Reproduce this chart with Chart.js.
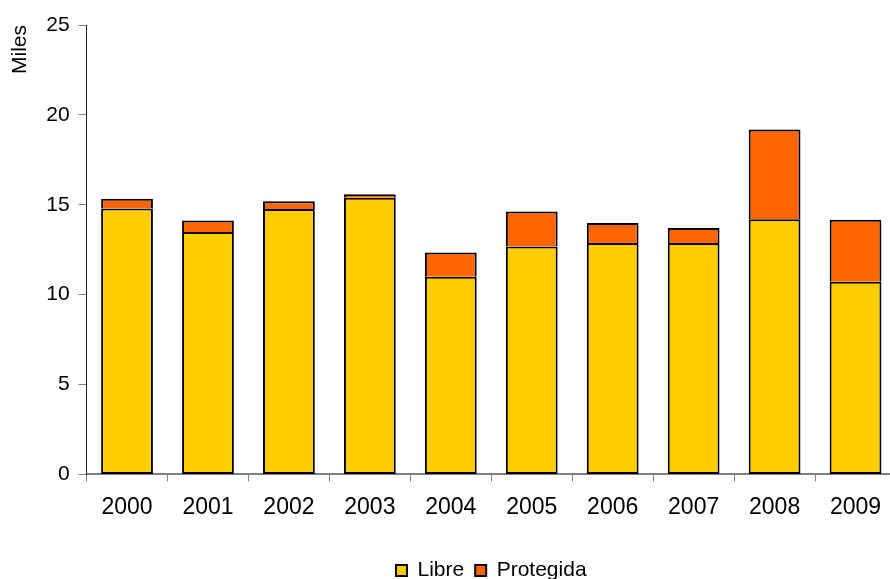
<!DOCTYPE html>
<html lang="es">
<head>
    <meta charset="UTF-8">
    <title>Libre / Protegida</title>
    <style>
        body {
            margin: 0;
            padding: 0;
            background: #fff;
            overflow: hidden;
        }
        #wrap {
            width: 890px;
            height: 579px;
            overflow: hidden;
        }
    </style>
</head>
<body>
    <div id="wrap">
        <!-- a bit wider than the window: the last column is cut at the right edge like the original -->
        <canvas id="chart" width="900" height="579"></canvas>
    </div>

    <script src="https://cdn.jsdelivr.net/npm/chart.js"></script>
    <script>
        // data (thousands)
        const years = ['2000', '2001', '2002', '2003', '2004', '2005', '2006', '2007', '2008', '2009'];
        const libre = [14.79, 13.48, 14.77, 15.39, 11.0, 12.68, 12.87, 12.87, 14.19, 10.72];
        const protegida = [0.54, 0.64, 0.43, 0.19, 1.34, 1.94, 1.12, 0.84, 4.99, 3.44];
        const yTicks = [0, 5, 10, 15, 20, 25];

        const family = 'Arial, "Liberation Sans", sans-serif';

        // legend sits under the middle of the plot area and a little lower than chart.js puts it
        const placeLegend = {
            id: 'placeLegend',
            afterLayout(chart) {
                const lg = chart.legend;
                const dx = (chart.chartArea.left + chart.chartArea.right) / 2 - (lg.left + lg.right) / 2;
                lg.left += dx;
                lg.right += dx;
                lg.top += 12;
                lg.bottom += 12;
            }
        };

        new Chart(document.getElementById('chart'), {
            type: 'bar',
            data: {
                labels: years,
                datasets: [
                    {
                        label: 'Libre',
                        data: libre,
                        backgroundColor: '#FFCC00',
                        borderColor: '#000',
                        borderWidth: 2,
                        borderSkipped: false
                    },
                    {
                        label: 'Protegida',
                        data: protegida,
                        backgroundColor: '#FF6600',
                        borderColor: '#000',
                        borderWidth: 2,
                        borderSkipped: 'start' // the yellow top edge already draws the line between them
                    }
                ]
            },
            options: {
                responsive: false,
                animation: false,
                datasets: {
                    bar: { categoryPercentage: 1, barPercentage: 0.64 }
                },
                layout: { padding: { top: 25, right: 4, left: 4, bottom: 0 } },
                plugins: {
                    legend: {
                        position: 'bottom',
                        labels: {
                            color: '#000',
                            font: { family: family, size: 21 },
                            boxWidth: 11,
                            boxHeight: 11,
                            padding: 11
                        }
                    },
                    tooltip: { enabled: false }
                },
                scales: {
                    x: {
                        stacked: true,
                        afterFit: axis => { axis.height += 4; },
                        border: { color: '#808080', width: 2 },
                        grid: {
                            display: true,
                            drawOnChartArea: false,
                            offset: true,
                            color: '#808080',
                            tickLength: 7
                        },
                        ticks: { color: '#000', font: { family: family, size: 23 }, padding: 12 }
                    },
                    y: {
                        stacked: true,
                        min: 0,
                        max: 25,
                        afterBuildTicks: axis => {
                            axis.ticks = yTicks.map(v => ({ value: v }));
                        },
                        border: { color: '#222', width: 1 },
                        grid: {
                            display: true,
                            drawOnChartArea: false,
                            color: '#808080',
                            tickLength: 8
                        },
                        ticks: { color: '#000', font: { family: family, size: 21 }, padding: 9 },
                        title: {
                            display: true,
                            text: 'Miles',
                            align: 'end',
                            color: '#000',
                            font: { family: family, size: 21 },
                            padding: { top: 4, bottom: 4 }
                        }
                    }
                }
            },
            plugins: [placeLegend]
        });
    </script>
</body>
</html>
